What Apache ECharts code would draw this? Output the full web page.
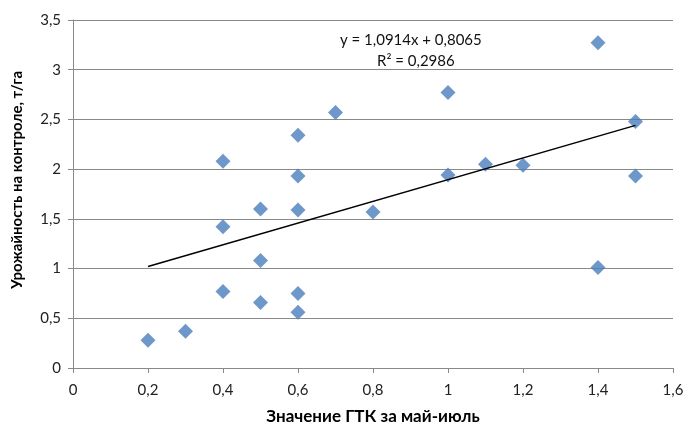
<!DOCTYPE html>
<html>
<head>
<meta charset="utf-8">
<script src="https://cdn.jsdelivr.net/npm/echarts@6/dist/echarts.min.js"></script>
<style>
    html, body { margin: 0; padding: 0; background: #fff; }
    #chart { width: 687px; height: 430px; }
</style>
</head>
<body>
<div id="chart"></div>
<script>
// ГТК за май-июль
var gtk = [0.2, 0.3, 0.4, 0.4, 0.4, 0.5, 0.5, 0.5, 0.6, 0.6, 0.6, 0.6, 0.6, 0.7, 0.8, 1.0, 1.0, 1.1, 1.2, 1.4, 1.4, 1.5, 1.5];
// урожайность на контроле, т/га
var yieldT = [0.28, 0.37, 0.77, 1.42, 2.08, 0.66, 1.08, 1.60, 0.75, 0.56, 1.59, 1.93, 2.34, 2.57, 1.57, 2.77, 1.94, 2.05, 2.04, 3.27, 1.01, 2.48, 1.93];
// линия тренда (концы)
var trendX = [0.2, 1.5];
var trendY = [1.02, 2.44];
var eqText = 'y = 1,0914x + 0,8065';
var r2Text = 'R² = 0,2986';

window.addEventListener("load", function() {
    var myChart = echarts.init(document.getElementById('chart'));
    var points = gtk.map(function(x, i) { return [x, yieldT[i]]; });
    var trend = trendX.map(function(x, i) { return [x, trendY[i]]; });
    var comma = function(v) { return String(v).replace('.', ','); };
    var font = 'Lato, "Open Sans", sans-serif';
    var grey = '#898989';

    var option = {
        animation: false,
        textStyle: { fontFamily: font },
        grid: { left: 73, right: 14, top: 20, bottom: 60 },
        xAxis: {
            type: 'value',
            min: 0, max: 1.6, interval: 0.2,
            name: 'Значение ГТК за май-июль',
            nameLocation: 'middle',
            nameGap: 40,
            nameTextStyle: { fontFamily: font, fontWeight: 'bold', fontSize: 17, color: '#000' },
            axisLine: { lineStyle: { color: grey } },
            axisTick: { show: true, length: 5, lineStyle: { color: grey } },
            axisLabel: { formatter: comma, fontSize: 15, color: '#222', margin: 15 },
            splitLine: { show: false }
        },
        yAxis: {
            type: 'value',
            min: 0, max: 3.5, interval: 0.5,
            name: 'Урожайность на контроле, т/га',
            nameLocation: 'middle',
            nameGap: 48,
            nameTextStyle: { fontFamily: font, fontWeight: 'bold', fontSize: 15, color: '#000', padding: [0, 0, 0, 28] },
            axisLine: { show: true, lineStyle: { color: grey } },
            axisTick: { show: true, length: 5, lineStyle: { color: grey } },
            axisLabel: { formatter: comma, fontSize: 15, color: '#222', margin: 12 },
            splitLine: { lineStyle: { color: grey, width: 1 } }
        },
        graphic: [
            { type: 'text', left: 340, top: 33, style: { text: eqText, fontFamily: font, fontSize: 15, fill: '#111' } },
            { type: 'text', left: 377, top: 54, style: { text: r2Text, fontFamily: font, fontSize: 15, fill: '#111' } }
        ],
        series: [{
            type: 'scatter',
            data: points,
            symbol: 'diamond',
            symbolSize: 15,
            itemStyle: { color: '#4a7ebb' },
            z: 3
        }, {
            type: 'line',
            data: trend,
            symbol: 'none',
            lineStyle: { color: '#000', width: 1.5 },
            z: 4
        }]
    };
    myChart.setOption(option);
});
</script>
</body>
</html>
